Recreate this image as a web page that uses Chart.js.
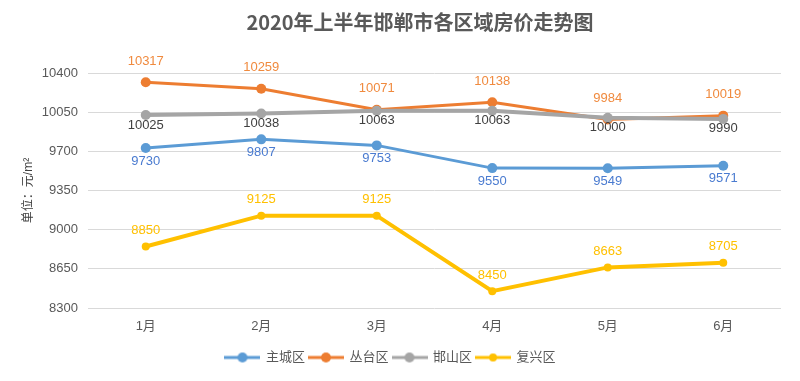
<!DOCTYPE html>
<html>
<head>
<meta charset="utf-8">
<script src="https://cdn.jsdelivr.net/npm/chart.js@4.4.1/dist/chart.umd.min.js"></script>
<style>
  html, body { margin: 0; padding: 0; background: #fff; }
  #wrap { width: 800px; height: 381px; }
</style>
</head>
<body>
<div id="wrap"><canvas id="chart"></canvas></div>
<script>
// ─── DATA ───────────────────────────────────────────────────────
const months    = ["1月", "2月", "3月", "4月", "5月", "6月"];
const zhucheng  = [9730, 9807, 9753, 9550, 9549, 9571];     // 主城区
const congtai   = [10317, 10259, 10071, 10138, 9984, 10019]; // 丛台区
const hanshan   = [10025, 10038, 10063, 10063, 10000, 9990]; // 邯山区
const fuxing    = [8850, 9125, 9125, 8450, 8663, 8705];      // 复兴区
const yTicks    = [8300, 8650, 9000, 9350, 9700, 10050, 10400];

// ─── PALETA ─────────────────────────────────────────────────────
const C = {
  blue:   "#5B9BD5",
  orange: "#ED7D31",
  gray:   "#A5A5A5",
  yellow: "#FFC000",
  text:   "#595959",
  grid:   "#D9D9D9",
};

const FONT = "'Liberation Sans', 'Noto Sans CJK SC', sans-serif";
Chart.defaults.font.family = FONT;
Chart.defaults.color = C.text;

// legend icon: short line with a dot in the middle
function legendIcon(color, r, lw) {
  const c = document.createElement("canvas");
  c.width = 36; c.height = 12;
  const g = c.getContext("2d");
  g.strokeStyle = color; g.lineWidth = lw;
  g.beginPath(); g.moveTo(0, 6); g.lineTo(36, 6); g.stroke();
  g.fillStyle = color;
  g.beginPath(); g.arc(18, 6, r, 0, Math.PI * 2); g.fill();
  return c;
}

function series(label, data, color, opts) {
  return Object.assign({
    label, data,
    borderColor: color,
    backgroundColor: color,
    borderWidth: 3,
    pointRadius: 5,
    pointHoverRadius: 5,
    pointBorderWidth: 0,
    tension: 0,
    fill: false,
  }, opts);
}

// ─── PLUGINS ────────────────────────────────────────────────────
const titlePlugin = {
  id: "topTitle",
  afterDraw(chart) {
    const ctx = chart.ctx;
    ctx.save();
    ctx.font = "bold 20px 'Noto Sans CJK SC', sans-serif";
    ctx.fillStyle = C.text;
    ctx.textAlign = "center";
    ctx.textBaseline = "middle";
    ctx.fillText("2020年上半年邯郸市各区域房价走势图", 420, 22);
    ctx.restore();
  },
};

const valueLabels = {
  id: "valueLabels",
  afterDatasetsDraw(chart) {
    const ctx = chart.ctx;
    ctx.save();
    ctx.font = "13px " + FONT;
    ctx.textAlign = "center";
    ctx.textBaseline = "middle";
    chart.data.datasets.forEach((ds, i) => {
      const meta = chart.getDatasetMeta(i);
      ctx.fillStyle = ds.labelColor;
      meta.data.forEach((pt, j) => {
        ctx.fillText(String(ds.data[j]), pt.x, pt.y + ds.labelOffset);
      });
    });
    ctx.restore();
  },
};

const icons = [
  legendIcon(C.blue, 5, 3),
  legendIcon(C.orange, 5, 3),
  legendIcon(C.gray, 5, 3),
  legendIcon(C.yellow, 4, 3),
];

new Chart(document.getElementById("chart"), {
  type: "line",
  data: {
    labels: months,
    datasets: [
      series("主城区", zhucheng, C.blue,   { order: 4, labelColor: "#4A7BD0", labelOffset: 13 }),
      series("丛台区", congtai,  C.orange, { order: 3, labelColor: "#F08A3E", labelOffset: -21 }),
      series("邯山区", hanshan,  C.gray,   { order: 2, borderWidth: 4, labelColor: "#404040", labelOffset: 10 }),
      series("复兴区", fuxing,   C.yellow, { order: 1, borderWidth: 4, pointRadius: 4, pointHoverRadius: 4, labelColor: "#FFC000", labelOffset: -16 }),
    ],
  },
  options: {
    responsive: true,
    maintainAspectRatio: false,
    animation: false,
    layout: { padding: { top: 73, right: 19, left: 0, bottom: 7 } },
    plugins: {
      title: { display: false },
      tooltip: { enabled: false },
      legend: {
        position: "bottom",
        labels: {
          usePointStyle: true,
          pointStyleWidth: 34,
          boxHeight: 12,
          padding: 4,
          font: { size: 13, family: FONT },
          color: C.text,
          sort: (a, b) => a.datasetIndex - b.datasetIndex,
          generateLabels(chart) {
            const items = Chart.defaults.plugins.legend.labels.generateLabels(chart);
            items.forEach(it => { it.pointStyle = icons[it.datasetIndex]; });
            return items;
          },
        },
      },
    },
    scales: {
      x: {
        offset: true,
        grid: { display: false, drawTicks: false },
        border: { display: false },
        afterFit(scale) { scale.height = 39; },
        ticks: { padding: 11, font: { size: 13, family: FONT }, color: C.text },
      },
      y: {
        min: yTicks[0],
        max: yTicks[yTicks.length - 1],
        afterBuildTicks(scale) { scale.ticks = yTicks.map(v => ({ value: v })); },
        afterFit(scale) { scale.width = 88; },
        grid: { color: C.grid, lineWidth: 1, drawTicks: false },
        border: { display: false },
        ticks: {
          padding: 10,
          font: { size: 13, family: FONT },
          color: C.text,
          callback: v => String(v),
        },
        title: {
          display: true,
          text: "单位：元/m²",
          font: { size: 12, family: FONT },
          color: "#404040",
          padding: { top: 21, bottom: 0 },
        },
      },
    },
  },
  plugins: [titlePlugin, valueLabels],
});
</script>
</body>
</html>
